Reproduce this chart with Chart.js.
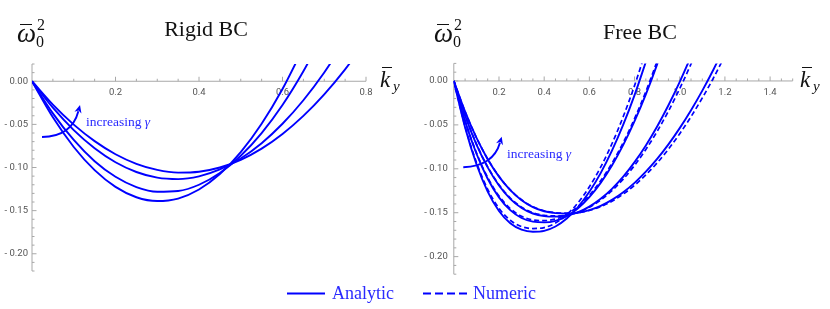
<!DOCTYPE html>
<html>
<head>
<meta charset="utf-8">
<script src="https://cdn.jsdelivr.net/npm/chart.js@4.4.0/dist/chart.umd.min.js"></script>
<style>
  body { margin: 0; background: #fff; width: 830px; height: 309px; position: relative; overflow: hidden; font-family: "Liberation Serif", serif; }
  canvas { position: absolute; top: 0; }
  .t { position: absolute; white-space: nowrap; line-height: 1; }
  .title { font-size: 22px; color: #111; transform: translateX(-50%); }
  .omega { font-size: 27px; font-style: italic; color: #111; }
  .small { font-size: 16px; color: #111; }
  .kvar { font-size: 23px; font-style: italic; color: #111; }
  .ysub { font-size: 15px; font-style: italic; color: #111; }
  .bar { position: absolute; height: 1.4px; background: #111; }
  .note { font-size: 13.5px; color: #2a2aff; }
  .leg { font-size: 18px; color: #2a2aff; }
</style>
</head>
<body>
<canvas id="rigid" width="415" height="309" style="left:0"></canvas>
<canvas id="free" width="415" height="309" style="left:415px"></canvas>

<div class="t title" style="left:206px; top:18px">Rigid BC</div>
<div class="t title" style="left:640px; top:21px">Free BC</div>

<!-- y axis labels: omega-bar_0^2 -->
<div class="t omega" style="left:17px; top:20px">ω</div>
<div class="bar" style="left:20px; top:24px; width:12px"></div>
<div class="t small" style="left:37px; top:17px">2</div>
<div class="t small" style="left:36px; top:34px">0</div>
<div class="t omega" style="left:434px; top:20px">ω</div>
<div class="bar" style="left:437px; top:24px; width:12px"></div>
<div class="t small" style="left:454px; top:17px">2</div>
<div class="t small" style="left:453px; top:34px">0</div>

<!-- x axis labels: k-bar_y -->
<div class="t kvar" style="left:380px; top:68px">k</div>
<div class="bar" style="left:382px; top:67px; width:10px"></div>
<div class="t ysub" style="left:393px; top:79px">y</div>
<div class="t kvar" style="left:800px; top:68px">k</div>
<div class="bar" style="left:802px; top:67px; width:10px"></div>
<div class="t ysub" style="left:813px; top:79px">y</div>

<div class="t note" style="left:86px; top:115px">increasing <i>γ</i></div>
<div class="t note" style="left:507px; top:147px">increasing <i>γ</i></div>

<svg style="position:absolute; left:0; top:0" width="830" height="309">
  <line x1="287" y1="293.5" x2="325" y2="293.5" stroke="#0000ff" stroke-width="2"/>
  <line x1="423" y1="293.5" x2="467" y2="293.5" stroke="#0000ff" stroke-width="2" stroke-dasharray="8,4"/>
</svg>
<div class="t leg" style="left:332px; top:284px">Analytic</div>
<div class="t leg" style="left:473px; top:284px">Numeric</div>

<script>
  // wavenumber grids (k_y)
  const kRigid = [0, 0.05, 0.10, 0.15, 0.20, 0.25, 0.30, 0.35, 0.40, 0.45, 0.50, 0.55, 0.60, 0.65, 0.70, 0.75, 0.80];
  const kFree = [0, 0.05, 0.10, 0.15, 0.20, 0.25, 0.30, 0.35, 0.40, 0.45, 0.50, 0.55, 0.60,
                 0.65, 0.70, 0.75, 0.80, 0.85, 0.90, 0.95, 1.00, 1.05, 1.10, 1.15, 1.20];

  // Rigid BC, analytic, gamma increasing from 1 to 4
  const rigid1 = [0, -0.0418, -0.0762, -0.1031, -0.1225, -0.1345, -0.1389, -0.1360, -0.1255, -0.1076, -0.0822, -0.0493, -0.0090, 0.0388];
  const rigid2 = [0, -0.0372, -0.0681, -0.0927, -0.1108, -0.1227, -0.1281, -0.1272, -0.1200, -0.1064, -0.0864, -0.0601, -0.0275, 0.0116, 0.0569];
  const rigid3 = [0, -0.0307, -0.0566, -0.0776, -0.0939, -0.1052, -0.1118, -0.1135, -0.1103, -0.1023, -0.0895, -0.0718, -0.0493, -0.0220, 0.0102, 0.0472];
  const rigid4 = [0, -0.0272, -0.0503, -0.0694, -0.0846, -0.0957, -0.1028, -0.1059, -0.1049, -0.1000, -0.0911, -0.0781, -0.0611, -0.0402, -0.0152, 0.0138, 0.0469];

  // Free BC, analytic
  const free1 = [0, -0.0529, -0.0945, -0.1259, -0.1480, -0.1620, -0.1693, -0.1716, -0.1706, -0.1657, -0.1566, -0.1435, -0.1262, -0.1049, -0.0794, -0.0498, -0.0161, 0.0217];
  const free2 = [0, -0.0457, -0.0826, -0.1113, -0.1325, -0.1471, -0.1560, -0.1601, -0.1610, -0.1592, -0.1538, -0.1448, -0.1322, -0.1160, -0.0962, -0.0728, -0.0458, -0.0153, 0.0189, 0.0567];
  const free3 = [0, -0.0394, -0.0721, -0.0984, -0.1190, -0.1342, -0.1446, -0.1509, -0.1539, -0.1545, -0.1532, -0.1494, -0.1431, -0.1342, -0.1228, -0.1089, -0.0924, -0.0734, -0.0518, -0.0277, -0.0011, 0.0280];
  const free4 = [0, -0.0350, -0.0646, -0.0891, -0.1089, -0.1243, -0.1357, -0.1436, -0.1483, -0.1505, -0.1510, -0.1500, -0.1471, -0.1422, -0.1354, -0.1267, -0.1160, -0.1033, -0.0888, -0.0722, -0.0537, -0.0333, -0.0110, 0.0134, 0.0396];

  // Free BC, numeric
  const freeNum1 = [0, -0.0518, -0.0925, -0.1233, -0.1449, -0.1586, -0.1658, -0.1680, -0.1669, -0.1618, -0.1523, -0.1386, -0.1205, -0.0982, -0.0715, -0.0405, -0.0053, 0.0343];
  const freeNum2 = [0, -0.0451, -0.0816, -0.1099, -0.1309, -0.1453, -0.1541, -0.1581, -0.1590, -0.1572, -0.1517, -0.1427, -0.1300, -0.1136, -0.0937, -0.0701, -0.0428, -0.0120, 0.0225];
  const freeNum3 = [0, -0.0391, -0.0716, -0.0978, -0.1182, -0.1333, -0.1437, -0.1499, -0.1529, -0.1535, -0.1527, -0.1495, -0.1438, -0.1356, -0.1249, -0.1117, -0.0961, -0.0780, -0.0574, -0.0343, -0.0087, 0.0194, 0.0499];
  const freeNum4 = [0, -0.0349, -0.0644, -0.0888, -0.1085, -0.1239, -0.1353, -0.1431, -0.1478, -0.1500, -0.1505, -0.1499, -0.1474, -0.1431, -0.1369, -0.1288, -0.1188, -0.1069, -0.0932, -0.0776, -0.0600, -0.0406, -0.0193, 0.0038, 0.0289];

  // tick labels
  const xTicksRigid = [0.2, 0.4, 0.6, 0.8];
  const xTicksFree = [0.2, 0.4, 0.6, 0.8, 1.0, 1.2, 1.4];
  const yTicks = [0, -0.05, -0.10, -0.15, -0.20];
  const yTickLabels = ['0.00', '- 0.05', '- 0.10', '- 0.15', '- 0.20'];

  const BLUE = '#0000ff';

  function toPoints(ks, vals) {
    return vals.map((v, i) => ({ x: ks[i], y: v }));
  }

  function lineSet(ks, vals, dashed) {
    return {
      data: toPoints(ks, vals),
      borderColor: BLUE,
      borderWidth: dashed ? 1.7 : 1.9,
      borderDash: dashed ? [5, 3] : [],
      pointRadius: 0,
      cubicInterpolationMode: 'monotone',
      fill: false,
      clip: 0
    };
  }

  // Mathematica style axes through the origin, ticks pointing inward
  const axesPlugin = {
    id: 'mmaAxes',
    beforeDatasetsDraw(chart, args, opts) {
      const { ctx } = chart;
      const x = chart.scales.x, y = chart.scales.y;
      const x0 = x.getPixelForValue(0), y0 = y.getPixelForValue(0);
      ctx.save();
      ctx.strokeStyle = '#a8a8a8';
      ctx.lineWidth = 1;
      ctx.beginPath();
      ctx.moveTo(x.left, y0); ctx.lineTo(x.right, y0);
      ctx.moveTo(x0, y.top); ctx.lineTo(x0, y.bottom);
      for (let i = 1; i * 0.05 <= x.max + 1e-9; i++) {
        const px = x.getPixelForValue(i * 0.05);
        const len = i % 4 === 0 ? 4.5 : 2.5;
        ctx.moveTo(px, y0); ctx.lineTo(px, y0 - len);
      }
      for (let i = -22; i <= 2; i++) {
        const py = y.getPixelForValue(i / 100);
        const len = i % 5 === 0 ? 4.5 : 2.5;
        ctx.moveTo(x0, py); ctx.lineTo(x0 + len, py);
      }
      ctx.stroke();

      ctx.fillStyle = '#555';
      ctx.font = '9.5px Roboto';
      ctx.textAlign = 'center';
      ctx.textBaseline = 'top';
      opts.xTicks.forEach(v => ctx.fillText(v.toFixed(1), x.getPixelForValue(v), y0 + 7));
      ctx.textAlign = 'right';
      ctx.textBaseline = 'middle';
      yTicks.forEach((v, i) => ctx.fillText(yTickLabels[i], x0 - opts.gap, y.getPixelForValue(v)));
      ctx.restore();
    },
    afterDatasetsDraw(chart, args, opts) {
      // curved "increasing gamma" arrow
      const a = opts.arrow;
      if (!a) return;
      const { ctx } = chart;
      const x = chart.scales.x, y = chart.scales.y;
      const p = pt => [x.getPixelForValue(pt[0]), y.getPixelForValue(pt[1])];
      const [x1, y1] = p(a.from), [cx, cy] = p(a.ctrl), [x2, y2] = p(a.to);
      const ang = Math.atan2(y2 - cy, x2 - cx);
      const hl = 8, hw = 3.6;
      const bx = x2 - hl * Math.cos(ang) * 0.8, by = y2 - hl * Math.sin(ang) * 0.8;
      ctx.save();
      ctx.strokeStyle = BLUE;
      ctx.fillStyle = BLUE;
      ctx.lineWidth = 1.9;
      ctx.beginPath();
      ctx.moveTo(x1, y1);
      ctx.quadraticCurveTo(cx, cy, bx, by);
      ctx.stroke();
      ctx.beginPath();
      ctx.moveTo(x2, y2);
      ctx.lineTo(x2 - hl * Math.cos(ang) + hw * Math.sin(ang), y2 - hl * Math.sin(ang) - hw * Math.cos(ang));
      ctx.lineTo(x2 - hl * Math.cos(ang) * 0.7, y2 - hl * Math.sin(ang) * 0.7);
      ctx.lineTo(x2 - hl * Math.cos(ang) - hw * Math.sin(ang), y2 - hl * Math.sin(ang) + hw * Math.cos(ang));
      ctx.closePath();
      ctx.fill();
      ctx.restore();
    }
  };

  function makeChart(id, datasets, xMax, padding, axisOpts) {
    return new Chart(document.getElementById(id), {
      type: 'line',
      data: { datasets: datasets },
      options: {
        responsive: false,
        devicePixelRatio: 1,
        animation: false,
        layout: { padding: padding },
        scales: {
          x: { type: 'linear', min: 0, max: xMax, display: false },
          y: { type: 'linear', min: -0.22, max: 0.02, display: false }
        },
        plugins: {
          legend: { display: false },
          tooltip: { enabled: false },
          mmaAxes: axisOpts
        }
      },
      plugins: [axesPlugin]
    });
  }

  makeChart('rigid', [
    lineSet(kRigid, rigid1), lineSet(kRigid, rigid2),
    lineSet(kRigid, rigid3), lineSet(kRigid, rigid4)
  ], 0.8, { left: 32, right: 49, top: 64, bottom: 38 }, {
    xTicks: xTicksRigid, gap: 4,
    arrow: { from: [0.024, -0.0646], ctrl: [0.095, -0.064], to: [0.115, -0.0275] }
  });

  makeChart('free', [
    lineSet(kFree, free1), lineSet(kFree, free2), lineSet(kFree, free3), lineSet(kFree, free4),
    lineSet(kFree, freeNum1, true), lineSet(kFree, freeNum2, true),
    lineSet(kFree, freeNum3, true), lineSet(kFree, freeNum4, true)
  ], 1.5, { left: 38.8, right: 37.3, top: 63.4, bottom: 34.8 }, {
    xTicks: xTicksFree, gap: 6,
    arrow: { from: [0.042, -0.0983], ctrl: [0.175, -0.097], to: [0.212, -0.0634] }
  });
</script>
</body>
</html>
